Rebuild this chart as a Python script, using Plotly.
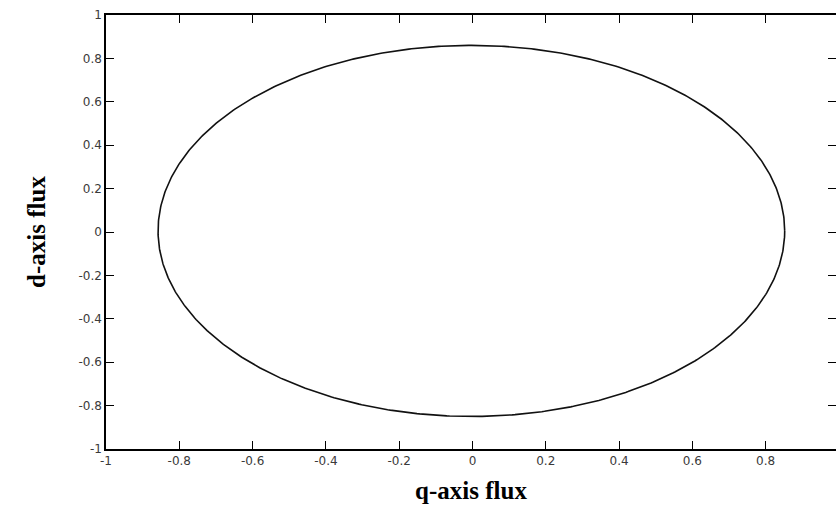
import numpy as np
import plotly.graph_objects as go

# Stator flux trajectory in the d-q plane (steady-state circular locus)
flux_amplitude = 0.855          # |psi_s|, Wb
center_q = -0.003
center_d = 0.005
theta = np.linspace(0, 2 * np.pi, 721)
q_flux = center_q + flux_amplitude * np.cos(theta)
d_flux = center_d + flux_amplitude * np.sin(theta)

x_ticks = [-1, -0.8, -0.6, -0.4, -0.2, 0, 0.2, 0.4, 0.6, 0.8, 1]
y_ticks = [-1, -0.8, -0.6, -0.4, -0.2, 0, 0.2, 0.4, 0.6, 0.8, 1]
tick_text = ["-1", "-0.8", "-0.6", "-0.4", "-0.2", "0", "0.2", "0.4", "0.6", "0.8", "1"]

fig = go.Figure()
fig.add_trace(go.Scatter(
    x=q_flux, y=d_flux, mode="lines",
    line=dict(color="#111111", width=1.6),
    showlegend=False, hoverinfo="skip",
))
# invisible trace to carry the right-hand tick marks
fig.add_trace(go.Scatter(x=[0], y=[0], yaxis="y2", mode="markers",
                         marker=dict(opacity=0), showlegend=False, hoverinfo="skip"))

tick_font = dict(family="DejaVu Sans", size=12, color="#3a3a3a")
title_font = dict(family="Liberation Serif", size=25, color="#000000")

fig.update_layout(
    width=836, height=511,
    margin=dict(l=106, r=0, t=15, b=62),
    paper_bgcolor="white", plot_bgcolor="white",
    xaxis=dict(
        range=[-1, 0.992], tickvals=x_ticks, ticktext=tick_text,
        ticks="inside", ticklen=8, tickcolor="#000000", tickwidth=1,
        showline=True, linecolor="#000000", linewidth=1.5, mirror="ticks",
        showgrid=False, zeroline=False, tickfont=tick_font,
        title=dict(text="<b>q-axis flux</b>", font=title_font, standoff=14),
    ),
    yaxis=dict(
        range=[-1, 1], tickvals=y_ticks, ticktext=tick_text,
        ticks="inside", ticklen=8, tickcolor="#000000", tickwidth=1,
        showline=True, linecolor="#000000", linewidth=1.5,
        showgrid=False, zeroline=False, tickfont=tick_font,
        title=dict(text="<b>d-axis flux</b>", font=title_font, standoff=26),
    ),
    yaxis2=dict(
        range=[-1, 1], tickvals=y_ticks, overlaying="y", side="right",
        ticks="inside", ticklen=8, tickcolor="#000000", tickwidth=1,
        showline=False, showgrid=False, zeroline=False, showticklabels=False,
    ),
)

fig.write_html("out.html")
